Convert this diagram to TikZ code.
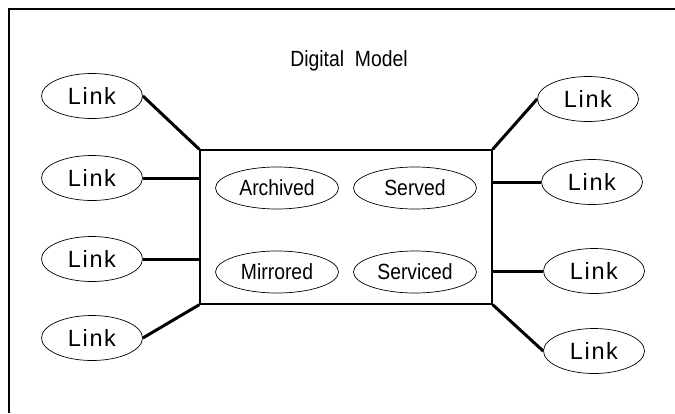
\documentclass[tikz,border=0pt]{standalone}
\usepackage{fontspec}
\setmainfont{Liberation Sans}
\usetikzlibrary{shapes.geometric}
\newfontfamily\linkfont[LetterSpace=7]{Liberation Sans}
\newfontfamily\narrowfont[FakeStretch=0.88]{Liberation Sans}
\begin{document}
\begin{tikzpicture}[x=1pt,y=-1pt,
  linkell/.style={ellipse,draw,line width=0.7pt,minimum width=101pt,minimum height=45pt,inner sep=0pt,
    font=\linkfont\fontsize{23.5}{25}\selectfont},
  innerell/.style={ellipse,draw,line width=0.7pt,minimum width=123pt,minimum height=42pt,inner sep=0pt,
    font=\narrowfont\fontsize{22}{24}\selectfont},
  conn/.style={line width=3pt},
  boxst/.style={draw,line width=1.4pt,minimum width=292pt,minimum height=154pt,inner sep=0pt}]
\useasboundingbox (0,0) rectangle (675,413);
\fill[white] (0,0) rectangle (675,413);
\coordinate (fa) at (9,413);
\coordinate (fb) at (9,9);
\coordinate (fc) at (675,9);
\draw[line width=2pt] (fa) -- (fb) -- (fc);
\node[font=\narrowfont\fontsize{22}{24}\selectfont] (title) at (349,61) {Digital\ \ Model};
\node[boxst] (box) at (346,227) {};
\node[innerell] (arch) at (277,188) {Archived};
\node[innerell] (serv) at (415,188) {Served};
\node[innerell] (mirr) at (277,272) {Mirrored};
\node[innerell] (svcd) at (415,272) {Serviced};
\node[linkell] (l1) at (92,96) {Link};
\node[linkell] (l2) at (92,178) {Link};
\node[linkell] (l3) at (92,259) {Link};
\node[linkell] (l4) at (92,338) {Link};
\node[linkell] (r1) at (588,99) {Link};
\node[linkell] (r2) at (592,182) {Link};
\node[linkell] (r3) at (594,271) {Link};
\node[linkell] (r4) at (594,351) {Link};
\draw[conn] (l1.east) -- (box.north west);
\draw[conn] (l2.east) -- (l2.east -| box.west);
\draw[conn] (l3.east) -- (l3.east -| box.west);
\draw[conn] (l4.east) -- (box.south west);
\draw[conn] (r1.west) -- (box.north east);
\draw[conn] (r2.west) -- (r2.west -| box.east);
\draw[conn] (r3.west) -- (r3.west -| box.east);
\draw[conn] (r4.west) -- (box.south east);
\end{tikzpicture}
\end{document}
